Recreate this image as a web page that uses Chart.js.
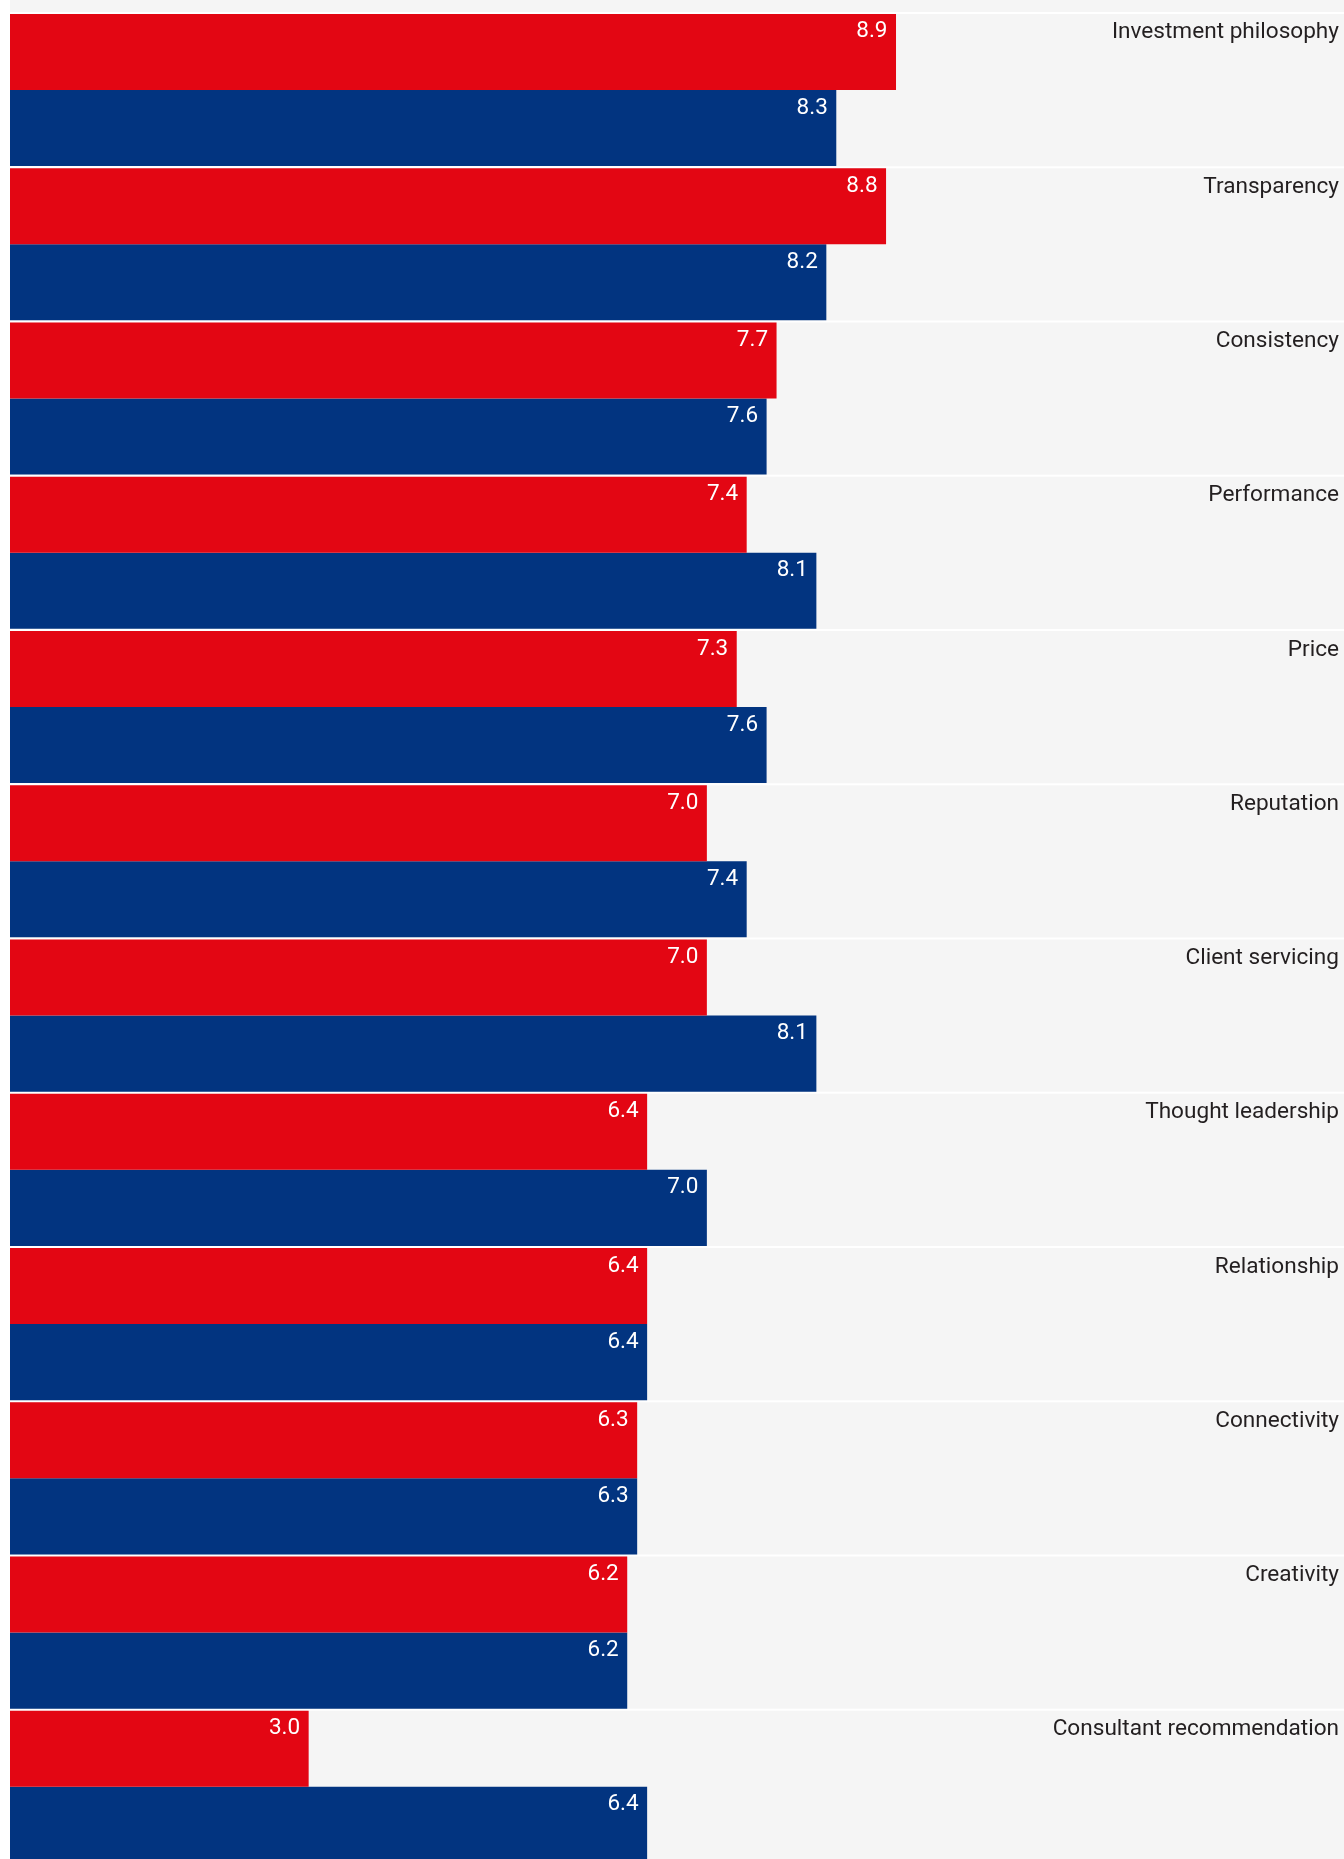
<!DOCTYPE html>
<html>
<head>
<meta charset="utf-8">
<script src="https://cdn.jsdelivr.net/npm/chart.js@4"></script>
<style>
  html, body { margin: 0; padding: 0; background: #ffffff; width: 1344px; height: 1859px; overflow: hidden; }
  #wrap { position: absolute; left: 10px; top: 0; width: 1334px; height: 1864px; }
  canvas { background: #f5f5f5; }
</style>
</head>
<body>
<div id="wrap"><canvas id="c" width="1334" height="1864"></canvas></div>
<script>
const categories = [
  "Investment philosophy", "Transparency", "Consistency", "Performance", "Price",
  "Reputation", "Client servicing", "Thought leadership", "Relationship",
  "Connectivity", "Creativity", "Consultant recommendation"
];
const seriesRed  = [8.9, 8.8, 7.7, 7.4, 7.3, 7.0, 7.0, 6.4, 6.4, 6.3, 6.2, 3.0];
const seriesBlue = [8.3, 8.2, 7.6, 8.1, 7.6, 7.4, 8.1, 7.0, 6.4, 6.3, 6.2, 6.4];
const xMax = 13.4;

const FONT = '"Roboto", "Liberation Sans", sans-serif';

const separators = {
  id: 'separators',
  beforeDatasetsDraw(chart) {
    const { ctx } = chart;
    const y = chart.scales.y;
    const n = categories.length;
    const band = (y.getPixelForValue(n - 1) - y.getPixelForValue(0)) / (n - 1);
    ctx.save();
    ctx.strokeStyle = '#ffffff';
    ctx.lineWidth = 2;
    for (let i = 0; i <= n; i++) {
      const py = y.getPixelForValue(i) - band / 2;
      ctx.beginPath();
      ctx.moveTo(0, py);
      ctx.lineTo(chart.width, py);
      ctx.stroke();
    }
    ctx.restore();
  },
  afterDatasetsDraw(chart) {
    const { ctx } = chart;
    ctx.save();
    ctx.font = '400 22.5px ' + FONT;
    ctx.textAlign = 'right';
    ctx.textBaseline = 'alphabetic';
    ctx.fillStyle = '#ffffff';
    chart.data.datasets.forEach((ds, di) => {
      const meta = chart.getDatasetMeta(di);
      meta.data.forEach((bar, i) => {
        const top = bar.y - bar.height / 2;
        ctx.fillText(ds.data[i].toFixed(1), bar.x - 8.5, top + 23.5);
      });
    });
    ctx.fillStyle = '#231f20';
    ctx.font = '400 22.6px ' + FONT;
    const m0 = chart.getDatasetMeta(0);
    m0.data.forEach((bar, i) => {
      const top = bar.y - bar.height / 2;
      ctx.fillText(categories[i], chart.width - 5, top + 24.5);
    });
    ctx.restore();
  }
};

new Chart(document.getElementById('c'), {
  type: 'bar',
  data: {
    labels: categories,
    datasets: [
      { label: 'Series A', data: seriesRed, backgroundColor: '#e30613', borderWidth: 0 },
      { label: 'Series B', data: seriesBlue, backgroundColor: '#023480', borderWidth: 0 }
    ]
  },
  options: {
    indexAxis: 'y',
    responsive: false,
    animation: false,
    devicePixelRatio: 1,
    categoryPercentage: 0.986,
    barPercentage: 1.0,
    layout: { padding: { top: 12.9, left: 0, right: 0, bottom: 0 } },
    plugins: { legend: { display: false }, tooltip: { enabled: false } },
    scales: {
      x: { display: false, min: 0, max: xMax },
      y: { display: false }
    }
  },
  plugins: [separators]
});
</script>
</body>
</html>
